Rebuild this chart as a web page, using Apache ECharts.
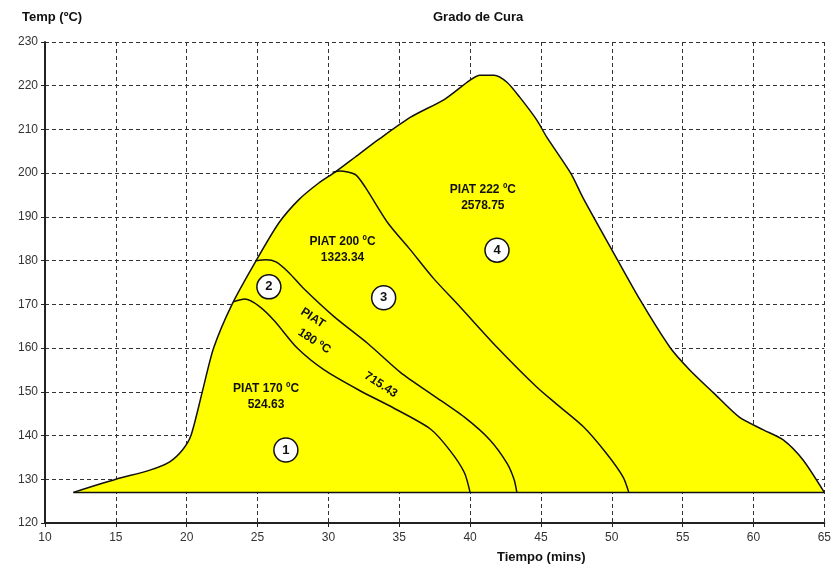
<!DOCTYPE html>
<html>
<head>
<meta charset="utf-8">
<script src="https://cdn.jsdelivr.net/npm/echarts@6/dist/echarts.min.js"></script>
<style>
  html, body { margin: 0; padding: 0; background: #fff; }
  #charts_main { width: 834px; height: 570px; }
</style>
</head>
<body>
<div id="charts_main"></div>
<script>
// ejes
const xTicks = [10, 15, 20, 25, 30, 35, 40, 45, 50, 55, 60, 65];
const yTicks = [120, 130, 140, 150, 160, 170, 180, 190, 200, 210, 220, 230];
const baseTemp = 127;

// curva 4 (envolvente, PIAT 222 ºC)
const curve4 = [
  [12.0, 127], [15.0, 130], [17.4, 132.1], [18.8, 134], [19.7, 136.7],
  [20.3, 140], [21.1, 150], [21.9, 160], [23.2, 170], [24.9, 180],
  [26.5, 188.6], [27.9, 193.9], [29.3, 197.7], [30.5, 200.3], [31.9, 203.7],
  [33.5, 207.6], [35.8, 212.8], [38.2, 216.9], [40.0, 221.3], [40.7, 222.4],
  [41.7, 222.4], [42.6, 220.8], [43.5, 217.4], [44.7, 212.2], [45.4, 208.3],
  [47.1, 200], [48.0, 194.2], [49.9, 183.1], [52.0, 171], [54.1, 160.2],
  [55.5, 155], [57.2, 149.7], [59.0, 144.2], [60.7, 141.3], [62.1, 139],
  [63.5, 134.4], [65.0, 127]
];
// curva 1 (PIAT 170 ºC)
const curve1 = [
  [23.3, 170.6], [24.1, 171.2], [25.1, 169.6], [26.2, 166.2], [27.8, 160],
  [29.7, 155], [32.2, 150.3], [34.6, 146.3], [37.2, 141.5], [38.6, 136.5],
  [39.6, 131.5], [40.0, 127]
];
// curva 2 (PIAT 180 ºC)
const curve2 = [
  [24.9, 180], [25.6, 180.2], [26.3, 179.7], [27.2, 177.3], [28.2, 173.8],
  [30.4, 167.2], [32.8, 161], [35.1, 154.4], [37.4, 149.2], [39.6, 144.2],
  [41.4, 139], [42.6, 133.7], [43.1, 130], [43.3, 127]
];
// curva 3 (PIAT 200 ºC)
const curve3 = [
  [30.3, 200.2], [30.8, 200.5], [31.9, 199.7], [32.6, 196.8], [34.2, 188.6],
  [35.8, 182.4], [37.4, 176], [39.3, 169.4], [41.9, 160.2], [44.7, 151.1],
  [46.1, 147.2], [48.0, 142], [49.6, 136], [50.8, 130.5], [51.2, 127]
];
const baseLine = [[12, 127], [65, 127]];

// textos
const noteText = ['PIAT 170 ºC\n524.63', 'PIAT 200 ºC\n1323.34', 'PIAT 222 ºC\n2578.75'];
const noteX = [25.6, 31.0, 40.9];
const noteY = [149.0, 182.5, 194.5];

const tiltText = ['PIAT', '180 ºC', '715.43'];
const tiltX = [28.9, 29.0, 33.7];
const tiltY = [166.9, 161.6, 151.6];

const circleNum = ['1', '2', '3', '4'];
const circleX = [27.0, 25.8, 33.9, 41.9];
const circleY = [136.7, 174.0, 171.5, 182.4];

function init() {
  let Chart = echarts.init(document.getElementById('charts_main'));
  const font = 'Liberation Sans, Arial, sans-serif';
  const gridLine = { show: true, lineStyle: { color: '#333', width: 1, type: [4, 3] } };

  const lineSeries = (data, extra) => Object.assign({
    type: 'line',
    data: data,
    symbol: 'none',
    smooth: 0.25,
    silent: true,
    lineStyle: { color: '#111', width: 1.5 }
  }, extra || {});

  const textSeries = (data, label) => ({
    type: 'scatter',
    z: 5,
    silent: true,
    symbol: 'circle',
    symbolSize: 1,
    itemStyle: { color: 'rgba(0,0,0,0)', opacity: 1 },
    data: data,
    label: Object.assign({
      show: true, position: 'inside', formatter: p => p.value[2],
      fontFamily: font, fontSize: 12, fontWeight: 'bold', color: '#111', opacity: 1
    }, label)
  });

  let option = {
    animation: false,
    backgroundColor: '#fff',
    title: [
      { text: 'Temp (ºC)', left: 22, top: 11, padding: 0,
        textStyle: { fontFamily: font, fontSize: 13, fontWeight: 'bold', color: '#111' } },
      { text: 'Grado de Cura', left: 433, top: 11, padding: 0,
        textStyle: { fontFamily: font, fontSize: 13, fontWeight: 'bold', color: '#111' } },
      { text: 'Tiempo (mins)', left: 497, top: 551, padding: 0,
        textStyle: { fontFamily: font, fontSize: 13, fontWeight: 'bold', color: '#111' } }
    ],
    grid: { left: 45, right: 5, top: 42, bottom: 47 },
    xAxis: {
      type: 'value',
      min: xTicks[0],
      max: xTicks[xTicks.length - 1],
      interval: 5,
      axisLine: { show: true, onZero: false, lineStyle: { color: '#222', width: 2 } },
      axisTick: { show: true, length: 4, lineStyle: { color: '#222' } },
      axisLabel: { margin: 9, fontFamily: font, fontSize: 12, color: '#333' },
      splitLine: gridLine
    },
    yAxis: {
      type: 'value',
      min: yTicks[0],
      max: yTicks[yTicks.length - 1],
      interval: 10,
      axisLine: { show: true, onZero: false, lineStyle: { color: '#222', width: 2 } },
      axisTick: { show: true, length: 4, lineStyle: { color: '#222' } },
      axisLabel: { margin: 7, fontFamily: font, fontSize: 12, color: '#333' },
      splitLine: gridLine
    },
    series: [
      lineSeries(curve4, {
        areaStyle: { color: '#ffff00', opacity: 1, origin: baseTemp }
      }),
      lineSeries(baseLine, { smooth: false }),
      lineSeries(curve1),
      lineSeries(curve2),
      lineSeries(curve3),
      textSeries(noteText.map((t, i) => [noteX[i], noteY[i], t]),
        { lineHeight: 16, align: 'center' }),
      textSeries(tiltText.map((t, i) => [tiltX[i], tiltY[i], t]),
        { rotate: -33 }),
      {
        type: 'scatter',
        z: 6,
        silent: true,
        symbol: 'circle',
        symbolSize: 24,
        itemStyle: { color: '#fff', borderColor: '#111', borderWidth: 1.5, opacity: 1 },
        data: circleNum.map((t, i) => [circleX[i], circleY[i], t]),
        label: {
          show: true, position: 'inside', formatter: p => p.value[2],
          fontFamily: font, fontSize: 13, fontWeight: 'bold', color: '#111'
        }
      }
    ]
  };
  Chart.setOption(option);
}

init();
</script>
</body>
</html>
